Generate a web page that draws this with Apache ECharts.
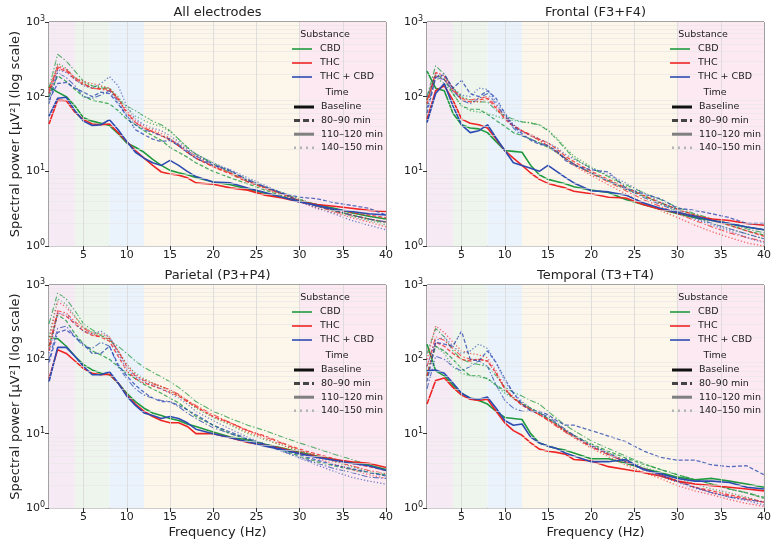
<!DOCTYPE html>
<html>
<head>
<meta charset="utf-8">
<title>Spectral power</title>
<script src="https://cdn.jsdelivr.net/npm/echarts@6.0.0/dist/echarts.min.js"></script>
<style>
html,body{margin:0;padding:0;background:#fff;}
#main{width:778px;height:548px;}
</style>
</head>
<body>
<div id="main"></div>
<script>
// frequency bins (Hz)
var freq = [1,2,3,4,5,6,7,8,9,10,11,12,13,14,15,16,17,18,20,22,24,26,28,30,32,34,36,38,40];
var panelTitles = ['All electrodes', 'Frontal (F3+F4)', 'Parietal (P3+P4)', 'Temporal (T3+T4)'];
var substances = ['CBD', 'THC', 'THC + CBD'];
var times = ['Baseline', '80–90 min', '110–120 min', '140–150 min'];
var xTicks = [5,10,15,20,25,30,35,40];
var yMinor = [2,3,4,5,6,7,8,9,20,30,40,50,60,70,80,90,200,300,400,500,600,700,800,900];
var bandEdges = [1,4,8,12,30,40];

// each: [Baseline, 80-90, 110-120, 140-150]
var allCBD = [
  [135,115,100,75,52,47,44,41,32,24,21,18,14.5,12,10.3,9.6,9,8.3,7.2,6.6,5.8,5.1,4.5,4.0,3.6,3.2,2.8,2.5,2.3],
  [100,190,160,125,100,90,85,80,65,50,42,35,30,26,21,18,15.5,13,10,8.2,6.8,5.6,4.7,4.0,3.4,3.0,2.6,2.3,2.1],
  [130,370,300,220,160,140,130,130,90,75,65,55,47,42,35,27,21,17,12.5,9.5,7.3,6.0,5.0,4.2,3.5,3.0,2.6,2.3,2.0],
  [110,280,240,180,150,140,135,130,100,70,55,48,43,40,34,27,21,17,13,10,7.8,6.2,5.2,4.3,3.5,2.9,2.5,2.2,1.9]
];
var allTHC = [
  [43,90,88,62,49,43,42,43,33,25,19,15,12,9.8,9.2,8.9,8.2,7.0,6.7,6.0,5.6,4.8,4.4,3.9,3.6,3.4,3.2,3.0,2.9],
  [110,240,220,170,145,130,128,125,95,60,45,38,34,30,27,22,18,15,11.5,9.2,7.2,6.0,5.0,4.1,3.5,3.1,2.8,2.6,2.4],
  [120,250,230,180,150,130,125,120,90,62,45,38,34,30,26,22,18,15,11.5,9.5,7.5,6.1,5.0,4.0,3.4,2.9,2.6,2.3,2.1],
  [130,260,230,180,160,150,140,130,95,65,48,40,36,32,28,23,19,16,12,9.5,7.3,5.8,4.8,3.9,3.2,2.8,2.4,2.1,1.8]
];
var allMix = [
  [55,95,98,65,47,41,42,49,36,25,18,15,13,12,14,12,10,8.5,7.2,7.0,6.0,5.2,4.5,3.9,3.5,3.1,2.9,2.7,2.6],
  [90,150,155,130,115,100,115,110,80,55,36,31,27,25,26,22,18,15,12,10.3,7.5,6.2,5.1,4.5,4.3,3.8,3.5,3.2,2.6],
  [80,210,180,140,100,95,105,120,85,55,42,36,33,30,27,23,19,16,12.5,10,7.8,6.2,5.0,4.0,3.4,3.0,2.6,2.3,2.1],
  [100,230,210,170,140,130,150,185,140,75,50,42,38,35,30,25,20,17,13,10.5,8.2,6.5,5.1,4.0,3.2,2.7,2.2,1.9,1.65]
];

var froCBD = [
  [220,130,120,60,42,38,37,33,25,19,18.5,18,12,9,7.8,7.3,6.8,6.2,5.6,5.2,4.2,3.6,3.1,2.7,2.4,2.2,2.0,1.8,1.65],
  [90,200,170,110,75,68,68,58,48,40,33,30,27,24,21,18,15,12.5,9.5,7.5,5.8,4.7,3.8,3.1,2.6,2.2,1.9,1.6,1.4],
  [100,260,200,130,100,90,85,85,65,55,50,46,44,42,35,27,20,15,11,8.5,6.6,5.2,4.2,3.3,2.7,2.3,2.0,1.7,1.5],
  [80,180,150,110,75,65,62,60,55,50,48,46,45,42,36,28,21,16,11.5,8.5,6.3,4.8,3.7,2.9,2.4,2.0,1.7,1.45,1.25]
];
var froTHC = [
  [50,120,140,90,50,44,42,38,27,19,15,12,9.5,7.8,6.9,6.4,6.0,5.4,5.0,4.5,4.4,3.6,3.1,2.8,2.5,2.3,2.2,2.0,1.9],
  [80,210,190,130,90,85,90,95,70,50,40,35,31,27,24,20,16,13.5,10,7.8,6.0,4.8,3.8,3.1,2.6,2.2,1.9,1.6,1.35],
  [90,190,170,120,95,90,95,100,75,55,42,35,30,26,22,18.5,15,12.5,9.3,7.2,5.5,4.2,3.4,2.7,2.2,1.8,1.5,1.3,1.15],
  [90,210,190,130,95,85,85,90,70,52,40,34,30,26,22,18,14.5,12,8.8,6.6,5.0,3.8,3.0,2.4,1.9,1.55,1.3,1.1,1.0]
];
var froMix = [
  [45,110,150,75,42,33,35,42,28,19,13,12,11,10,12,10,8.3,7,5.5,5.3,4.8,3.8,3.2,2.8,2.5,2.2,2.0,1.8,1.65],
  [60,180,200,130,165,110,100,120,95,60,40,32,26,23,22,19,14,12,10.5,9.8,6.0,5.0,4.3,3.2,3.0,2.7,2.4,2.0,2.0],
  [70,180,170,120,90,80,95,110,80,55,38,30,27,24,22,18,15,12.5,9.5,7.4,5.8,4.5,3.6,2.9,2.4,2.0,1.7,1.45,1.25],
  [100,200,180,130,105,100,130,125,85,60,42,34,30,27,24,21,17,14.5,11,9,7,5.2,3.9,3.0,2.3,1.9,1.6,1.3,1.1]
];

var parCBD = [
  [200,190,150,110,85,72,65,62,48,35,27,22,19,17.5,16,15,13.5,12.5,10.5,9,8.2,7.2,6.4,5.6,5.0,4.5,4.1,3.8,3.3],
  [150,400,330,220,160,130,115,100,80,65,55,46,40,35,30,26,21,17,13,10,8.5,7.2,6.0,5.0,4.2,3.7,3.3,3.0,2.8],
  [300,780,650,450,300,250,210,180,150,120,95,78,67,58,50,42,34,27,20,16,13,11,9,7.5,6.3,5.3,4.5,3.8,3.2],
  [200,650,550,380,270,230,210,190,130,85,65,55,48,43,38,33,27,22,16.5,13,10,8.3,7,5.9,5.0,4.2,3.6,3.1,2.7]
];
var parTHC = [
  [55,135,120,95,75,65,62,63,48,33,25,20,17,15,14,14,12.5,10,10,8.8,7.6,7.0,6.3,5.4,4.9,4.5,4.2,4.0,3.5],
  [130,420,380,300,240,210,200,175,110,70,55,48,44,40,36,32,27,23,17,14,11,9.3,7.5,6.2,5.3,4.6,4.0,3.6,3.2],
  [150,450,420,320,260,220,200,190,130,80,60,52,47,43,39,34,28,24,18,14,11,9,7.4,6.0,5.0,4.3,3.7,3.2,2.9],
  [180,600,500,370,270,230,220,200,130,85,62,53,48,43,38,33,28,23,17,13.5,10.5,8.6,7.0,5.7,4.7,3.9,3.3,2.8,2.5]
];
var parMix = [
  [50,145,145,110,80,62,62,68,48,32,24,19,17.5,16,17,16,14,11.5,10,8.8,7.8,6.8,6.1,5.4,4.8,4.4,4.0,3.7,3.2],
  [90,230,250,200,160,120,120,150,85,60,45,36,30,27,27,24,21,18,13,10.5,8.5,7.2,6.2,5.2,4.4,3.8,3.4,3.0,2.7],
  [100,260,280,200,150,140,170,150,80,55,40,33,30,28,27,23,19,16,12,10,8.4,7.0,5.8,4.8,4.0,3.4,3.0,2.6,2.5],
  [120,420,400,300,240,220,240,200,120,75,58,50,45,40,35,30,25,20,15,11.5,9,7.2,5.8,4.7,3.8,3.1,2.6,2.3,2.1]
];

var temCBD = [
  [160,70,60,45,35,30,28,25,20,16.5,16,15.5,10,7.5,6.8,6.3,6.0,5.5,4.6,4.6,4.0,3.4,3.0,2.6,2.4,2.5,2.3,2.1,1.9],
  [60,150,130,100,75,60,60,55,45,38,30,25,22,19,16,13.5,11,9.5,7.3,5.8,4.7,3.9,3.3,2.8,2.4,2.1,1.8,1.6,1.35],
  [120,260,200,130,100,90,85,80,60,42,36,32,28,25,20,16,13,11,8,6.3,5.0,4.0,3.3,2.8,2.4,2.1,1.8,1.6,1.4],
  [70,150,120,80,65,60,58,55,45,35,30,26,22,19,16,13.5,11,9.5,7,5.5,4.4,3.6,3.0,2.5,2.1,1.8,1.6,1.4,1.2]
];
var temTHC = [
  [25,52,56,42,33,29,28,29,20,14,11,9.5,7.5,6.2,5.8,5.6,5.3,4.5,4.3,3.6,3.3,3.0,2.7,2.3,2.1,2.0,1.9,1.8,1.7],
  [60,170,150,120,100,95,100,95,65,40,30,24,21,18,15.5,13,11,9.2,6.8,5.3,4.2,3.4,2.8,2.3,1.9,1.7,1.5,1.35,1.2],
  [80,200,180,140,110,100,100,95,65,40,30,25,21,18,15,12.5,10.5,9,6.6,5.2,4.2,3.4,2.8,2.3,1.9,1.6,1.45,1.3,1.2],
  [100,280,230,170,130,120,115,105,70,42,31,25,21,18,15.5,13,10.5,8.8,6.4,4.9,3.8,3.0,2.5,2.0,1.7,1.5,1.3,1.15,1.05]
];
var temMix = [
  [70,72,65,48,35,30,29,31,22,15,13,13.5,9,7.5,6.8,6.3,5.5,5.0,4.2,4.2,4.5,3.3,2.9,2.5,2.3,2.3,2.2,1.9,1.8],
  [50,170,160,150,240,100,95,130,90,55,35,25,20,20,18,15,13,13,11,9.3,7.8,5.9,4.8,4.4,4.4,3.8,3.6,3.7,2.8],
  [40,110,100,80,70,80,95,80,45,28,22,20,20,19,17,14,11.5,9.5,7,5.5,4.2,3.4,2.8,2.3,1.9,1.6,1.4,1.3,1.2],
  [80,180,200,150,120,130,160,140,90,50,35,27,22,19,16,13.5,11,9.2,6.8,5.2,4.1,3.3,2.7,2.2,1.85,1.6,1.4,1.25,1.1]
];

var panelData = [
  [allCBD, allTHC, allMix],
  [froCBD, froTHC, froMix],
  [parCBD, parTHC, parMix],
  [temCBD, temTHC, temMix]
];

var subColors = ['#1f9a3e', '#ee2424', '#2d4cb2'];
var bandColors = ['#f6eaf5', '#edf5ec', '#eaf2fc', '#fdf6ea', '#fce9f1'];
var timeStyles = [
  {width: 1.6, type: 'solid', opacity: 1},
  {width: 1.3, type: [4, 2], opacity: 0.8},
  {width: 1.1, type: [6, 2, 1.5, 2], opacity: 0.75},
  {width: 1.3, type: [1.3, 2], opacity: 0.65}
];
var FONT = 'DejaVu Sans';

var gridPos = [
  {left: 49, top: 22, width: 337, height: 224},
  {left: 427, top: 22, width: 337, height: 224},
  {left: 49, top: 285, width: 337, height: 223},
  {left: 427, top: 285, width: 337, height: 223}
];

function zip(xs, ys){
  return xs.map(function(x, i){ return [x, ys[i]]; });
}

var grids = [], xAxes = [], yAxes = [], series = [], graphics = [];

gridPos.forEach(function(g, gi){
  grids.push({left: g.left, top: g.top, width: g.width, height: g.height,
    show: true, borderColor: '#444', borderWidth: 1, backgroundColor: '#fff'});
  xAxes.push({
    type: 'value', gridIndex: gi, min: 1, max: 40,
    name: gi >= 2 ? 'Frequency (Hz)' : '', nameLocation: 'middle', nameGap: 18,
    nameTextStyle: {fontFamily: FONT, fontSize: 13, color: '#222'},
    axisLine: {show: false},
    axisTick: {show: true, length: 4, lineStyle: {color: '#333'}, customValues: xTicks},
    axisLabel: {fontFamily: FONT, fontSize: 11, color: '#222', margin: 4, customValues: xTicks},
    splitLine: {show: false}
  });
  yAxes.push({
    type: 'log', logBase: 10, gridIndex: gi, min: 1, max: 1000,
    name: gi % 2 === 0 ? 'Spectral power [µV²] (log scale)' : '',
    nameLocation: 'middle', nameGap: 26, nameRotate: 90,
    nameTextStyle: {fontFamily: FONT, fontSize: 13, color: '#222'},
    axisLine: {show: false},
    axisTick: {show: true, length: 4, lineStyle: {color: '#333'}},
    axisLabel: {fontFamily: FONT, color: '#222', margin: 4,
      formatter: function(v){ var e = Math.round(Math.log10(v)); return '{b|10}{s|' + e + '}'; },
      rich: {
        b: {fontFamily: FONT, fontSize: 11, color: '#222', lineHeight: 14},
        s: {fontFamily: FONT, fontSize: 8, color: '#222', lineHeight: 8, verticalAlign: 'top'}
      }},
    splitLine: {show: true, lineStyle: {color: '#d8d8d8', width: 0.8}}
  });

  // frequency bands and grid lines
  var bands = [];
  for (var b = 0; b < bandEdges.length - 1; b++) {
    bands.push([{xAxis: bandEdges[b], itemStyle: {color: bandColors[b]}}, {xAxis: bandEdges[b + 1]}]);
  }
  var gl = yMinor.map(function(v){ return {yAxis: v}; }).concat(
    xTicks.slice(0, -1).map(function(v){ return {xAxis: v, lineStyle: {color: '#d8d8d8', width: 0.8}}; }));
  series.push({
    type: 'line', xAxisIndex: gi, yAxisIndex: gi, data: [], silent: true, z: 1,
    markArea: {silent: true, data: bands},
    markLine: {silent: true, symbol: 'none', label: {show: false},
      lineStyle: {color: '#e6e6e6', width: 0.6, type: 'solid'}, data: gl}
  });

  panelData[gi].forEach(function(sub, si){
    sub.forEach(function(vals, ti){
      var st = timeStyles[ti];
      series.push({
        name: substances[si] + ' ' + times[ti],
        type: 'line', xAxisIndex: gi, yAxisIndex: gi, z: 3,
        data: zip(freq, vals), showSymbol: false, silent: true,
        lineStyle: {color: subColors[si], width: st.width, type: st.type, opacity: st.opacity}
      });
    });
  });

  // title
  graphics.push({type: 'text', x: g.left + g.width / 2, y: g.top - 3, z: 100,
    style: {text: panelTitles[gi], fontFamily: FONT, fontSize: 13, fill: '#222',
      textAlign: 'center', textVerticalAlign: 'bottom'}});

  // legend
  var ox = g.left, oy = g.top;
  graphics.push({type: 'text', x: ox + 276, y: oy + 13, z: 100,
    style: {text: 'Substance', fontFamily: FONT, fontSize: 9.5, fill: '#222', textAlign: 'center', textVerticalAlign: 'middle'}});
  substances.forEach(function(s, si){
    var yy = oy + 27 + si * 14;
    graphics.push({type: 'line', z: 100, shape: {x1: ox + 243, y1: yy, x2: ox + 263, y2: yy},
      style: {stroke: subColors[si], lineWidth: 1.6}});
    graphics.push({type: 'text', x: ox + 271, y: yy, z: 100,
      style: {text: s, fontFamily: FONT, fontSize: 9.5, fill: '#222', textVerticalAlign: 'middle'}});
  });
  graphics.push({type: 'text', x: ox + 288, y: oy + 71, z: 100,
    style: {text: 'Time', fontFamily: FONT, fontSize: 9.5, fill: '#222', textAlign: 'center', textVerticalAlign: 'middle'}});
  var legStyles = [
    {stroke: '#111', lineWidth: 3},
    {stroke: '#444', lineWidth: 3, lineDash: [6, 3]},
    {stroke: '#808080', lineWidth: 3},
    {stroke: '#b4b4b4', lineWidth: 2.5, lineDash: [2, 4]}
  ];
  times.forEach(function(t, ti){
    var yy = oy + 85 + ti * 13.6;
    graphics.push({type: 'line', z: 100, shape: {x1: ox + 245, y1: yy, x2: ox + 265, y2: yy},
      style: legStyles[ti]});
    graphics.push({type: 'text', x: ox + 272, y: yy, z: 100,
      style: {text: t, fontFamily: FONT, fontSize: 9.5, fill: '#222', textVerticalAlign: 'middle'}});
  });
});

var chart = echarts.init(document.getElementById('main'));
chart.setOption({
  animation: false,
  backgroundColor: '#fff',
  grid: grids,
  xAxis: xAxes,
  yAxis: yAxes,
  series: series,
  graphic: graphics
});
</script>
</body>
</html>
